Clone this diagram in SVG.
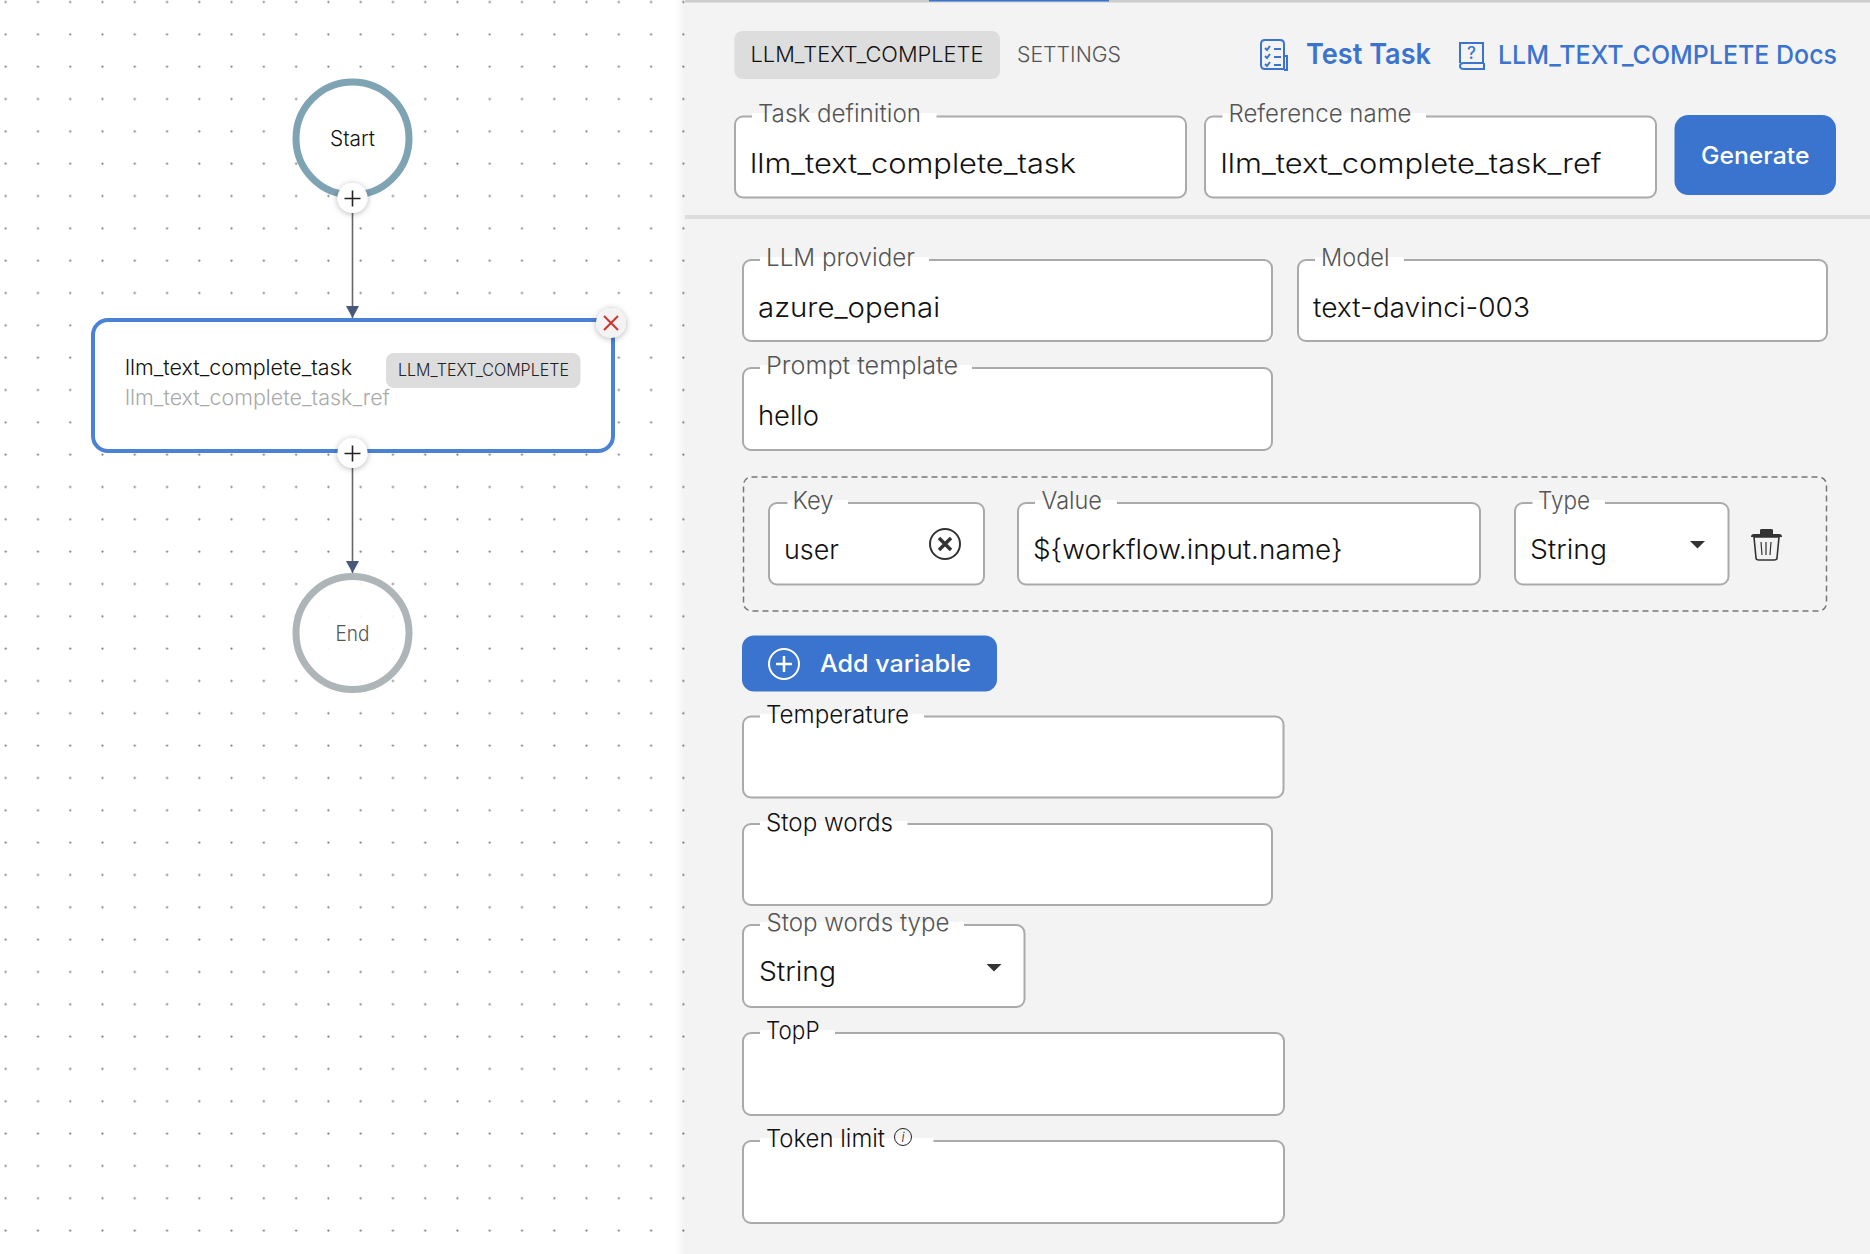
<svg xmlns="http://www.w3.org/2000/svg" width="1870" height="1254" viewBox="0 0 1870 1254">
<style>
text{font-family:Inter,"Liberation Sans",sans-serif;font-weight:300}
.f{fill:#fff;stroke:#aaa;stroke-width:2}
.n{fill:#fff}
.l{font-size:24px;fill:#555}
.k{font-size:24px;fill:#111}
.v{font-size:27.5px;fill:#111}
.b{font-size:26px;fill:#3a74cf;font-weight:500}
.w{font-size:24px;fill:#fff;font-weight:500}
.ic{fill:none;stroke:#3a74cf;stroke-width:2}
.pb{fill:#fff;filter:url(#sh)}
.pl{stroke:#222;stroke-width:1.6;fill:none}
.blue{fill:#3a74cf}
.d{fill:#333}
</style>
<defs>
<pattern id="dots" width="32.27" height="32.33" patternUnits="userSpaceOnUse" x="-10.4" y="-14.2">
<circle cx="16.1" cy="16.2" r="1.1" fill="#777"/>
</pattern>
<linearGradient id="edge" x1="0" x2="1" y1="0" y2="0"><stop offset="0" stop-color="#000" stop-opacity="0"/><stop offset="1" stop-color="#000" stop-opacity=".05"/></linearGradient>
<filter id="sh" x="-50%" y="-50%" width="200%" height="200%"><feDropShadow dx="0" dy="1" stdDeviation="3" flood-color="#000" flood-opacity=".3"/></filter>
<marker id="arr" markerUnits="userSpaceOnUse" markerWidth="13" markerHeight="13" refX="12" refY="6.5" orient="auto"><path d="M0 0L12 6.5L0 13Z" fill="#48587a"/></marker>
</defs>

<rect width="1870" height="1254" fill="#fff"/>
<rect width="685" height="1254" fill="url(#dots)"/>
<rect x="675" width="10" height="1254" fill="url(#edge)"/>

<g id="connectors" fill="none" stroke="#666" stroke-width="1.6">
<line x1="352.5" y1="213" x2="352.5" y2="318" marker-end="url(#arr)"/>
<line x1="352.5" y1="468" x2="352.5" y2="573" marker-end="url(#arr)"/>
</g>

<g id="node-start">
<circle cx="352.5" cy="138.5" r="56.5" fill="#fff" stroke="#7ea3b3" stroke-width="7"/>
<text x="352.5" y="146" text-anchor="middle" font-size="21" fill="#111" textLength="45" lengthAdjust="spacingAndGlyphs">Start</text>
<circle class="pb" cx="352.5" cy="198" r="15"/>
<path class="pl" d="M344.5 198.500h16M352.500 190.500v16"/>
</g>

<g id="node-task">
<rect x="93" y="320" width="520" height="131" rx="15" fill="#fff" stroke="#4a82d6" stroke-width="4"/>
<text x="125" y="375" font-size="21.500" fill="#111" textLength="227" lengthAdjust="spacingAndGlyphs">llm_text_complete_task</text>
<text x="125" y="404.500" font-size="21.500" fill="#aaa" textLength="265" lengthAdjust="spacingAndGlyphs">llm_text_complete_task_ref</text>
<rect x="386" y="353" width="194.500" height="35" rx="8" fill="#ddd"/>
<text x="398" y="376" font-size="17" fill="#222" textLength="171" lengthAdjust="spacingAndGlyphs">LLM_TEXT_COMPLETE</text>
<circle class="pb" cx="352.5" cy="453" r="15"/>
<path class="pl" d="M344.5 453.500h16M352.500 445.500v16"/>
<circle cx="611" cy="323" r="15" fill="#f3f3f3" filter="url(#sh)"/>
<path d="M604 316l14 14M618 316l-14 14" stroke="#d0342c" stroke-width="2" fill="none"/>
</g>

<g id="node-end">
<circle cx="352.5" cy="633" r="56.500" fill="#fff" fill-opacity=".9" stroke="#adb5b8" stroke-width="7"/>
<text x="352.5" y="640.500" text-anchor="middle" font-size="21" fill="#555" textLength="34" lengthAdjust="spacingAndGlyphs">End</text>
</g>

<g id="panel">
<rect x="685" width="1185" height="1254" fill="#f3f3f3"/>
<rect x="685" width="1185" height="2.500" fill="#ccc"/>
<rect x="929" width="180" height="1.500" fill="#3a74cf"/>
<rect x="685" y="215" width="1185" height="4" fill="#ddd"/>
</g>

<g id="tabs">
<rect x="734.500" y="31" width="265.500" height="48" rx="8" fill="#ddd"/>
<text x="750.500" y="62" font-size="21.500" fill="#111" textLength="233" lengthAdjust="spacingAndGlyphs">LLM_TEXT_COMPLETE</text>
<text x="1017" y="62" font-size="21.500" fill="#555" textLength="104" lengthAdjust="spacingAndGlyphs">SETTINGS</text>
</g>

<g id="test-task">
<path class="ic" d="M1265 40h15q4 0 4 4v25h-19q-4 0-4-4V44q0-4 4-4ZM1284 56h3v14h-3"/>
<path class="ic" d="M1265 48l2 2 3-4M1274 49h7M1265 56l2 2 3-4M1274 57h7M1265 64l2 2 3-4M1274 65h7" stroke-width="1.500"/>
<text x="1306" y="64" font-size="29" fill="#3a74cf" style="font-weight:600" textLength="125" lengthAdjust="spacingAndGlyphs">Test Task</text>
</g>
<g id="docs">
<path class="ic" d="M1460 63V43h23v20h-19q-4 0-4 3t4 3h20v-6"/>
<text x="1471.500" y="59" font-size="17" fill="#3a74cf" text-anchor="middle" style="font-weight:500">?</text>
<text x="1498" y="64" class="b" textLength="339" lengthAdjust="spacingAndGlyphs">LLM_TEXT_COMPLETE Docs</text>
</g>

<g id="field-task-definition">
<rect class="f" x="735" y="116.500" width="451" height="81" rx="8"/>
<rect class="n" x="752" y="113" width="184.500" height="5"/>
<text class="l" x="758" y="122" textLength="163" lengthAdjust="spacingAndGlyphs">Task definition</text>
<text class="v" x="750" y="173" textLength="326" lengthAdjust="spacingAndGlyphs">llm_text_complete_task</text>
</g>
<g id="field-reference-name">
<rect class="f" x="1205" y="116.500" width="451" height="81" rx="8"/>
<rect class="n" x="1222.500" y="113" width="203.500" height="5"/>
<text class="l" x="1228.500" y="122" textLength="183" lengthAdjust="spacingAndGlyphs">Reference name</text>
<text class="v" x="1220.500" y="173" textLength="381" lengthAdjust="spacingAndGlyphs">llm_text_complete_task_ref</text>
</g>
<g id="btn-generate">
<rect class="blue" x="1674.500" y="115" width="161.500" height="80" rx="14"/>
<text class="w" x="1701" y="164" textLength="108.500" lengthAdjust="spacingAndGlyphs">Generate</text>
</g>

<g id="field-llm-provider">
<rect class="f" x="743" y="260" width="529" height="81" rx="8"/>
<rect class="n" x="760" y="257" width="169" height="5"/>
<text class="l" x="766" y="266" textLength="149" lengthAdjust="spacingAndGlyphs">LLM provider</text>
<text class="v" x="758" y="317" textLength="182" lengthAdjust="spacingAndGlyphs">azure_openai</text>
</g>
<g id="field-model">
<rect class="f" x="1298" y="260" width="529" height="81" rx="8"/>
<rect class="n" x="1315" y="257" width="89" height="5"/>
<text class="l" x="1321" y="266" textLength="68.500" lengthAdjust="spacingAndGlyphs">Model</text>
<text class="v" x="1313" y="317" textLength="217" lengthAdjust="spacingAndGlyphs">text-davinci-003</text>
</g>
<g id="field-prompt-template">
<rect class="f" x="743" y="368" width="529" height="82" rx="8"/>
<rect class="n" x="760" y="365" width="212" height="5"/>
<text class="l" x="766" y="373.500" textLength="192" lengthAdjust="spacingAndGlyphs">Prompt template</text>
<text class="v" x="758" y="425" textLength="61" lengthAdjust="spacingAndGlyphs">hello</text>
</g>

<g id="variable-row">
<rect x="743.500" y="477" width="1083" height="134" rx="8" fill="none" stroke="#777" stroke-width="1.500" stroke-dasharray="6 4"/>
<rect class="f" x="769" y="503" width="215" height="81.500" rx="8"/>
<rect class="n" x="787.500" y="500" width="60.500" height="5"/>
<text class="l" x="792.500" y="508.500" textLength="41" lengthAdjust="spacingAndGlyphs">Key</text>
<text class="v" x="784" y="558.500" textLength="55" lengthAdjust="spacingAndGlyphs">user</text>
<circle cx="945" cy="544" r="15" fill="none" stroke="#333" stroke-width="2"/>
<path d="M939 538l12 12M951 538l-12 12" stroke="#333" stroke-width="3.500" fill="none"/>
<rect class="f" x="1018" y="503" width="462" height="81.500" rx="8"/>
<rect class="n" x="1035" y="500" width="82" height="5"/>
<text class="l" x="1041.500" y="508.500" textLength="60.500" lengthAdjust="spacingAndGlyphs">Value</text>
<text class="v" x="1033" y="558.500" textLength="309.500" lengthAdjust="spacingAndGlyphs">${workflow.input.name}</text>
<rect class="f" x="1515" y="503" width="213.500" height="81.500" rx="8"/>
<rect class="n" x="1532.500" y="500" width="72.500" height="5"/>
<text class="l" x="1538" y="508.500" textLength="52" lengthAdjust="spacingAndGlyphs">Type</text>
<text class="v" x="1530" y="558.500" textLength="77" lengthAdjust="spacingAndGlyphs">String</text>
<path class="d" d="M1690 541h15l-7.500 7.500Z"/>
<path d="M1754 537h25l-2 21q0 2-3 2h-15q-3 0-3-2Z" fill="none" stroke="#333" stroke-width="1.600"/>
<path d="M1751 537q0-3 3-3h6v-4q0-1 2-1h9q2 0 2 1v4h6q3 0 3 3Z" class="d"/>
<path d="M1761 542l1 13M1766 542v13M1771 542l-1 13" stroke="#333" stroke-width="1.200" fill="none"/>
</g>

<g id="btn-add-variable">
<rect class="blue" x="742" y="635.500" width="255" height="56" rx="12"/>
<circle cx="784" cy="664" r="15" fill="none" stroke="#fff" stroke-width="2"/>
<path d="M776 664h16M784 656v16" stroke="#fff" stroke-width="2.500" fill="none"/>
<text class="w" x="820" y="672" textLength="151" lengthAdjust="spacingAndGlyphs">Add variable</text>
</g>

<g id="field-temperature">
<rect class="f" x="743" y="716.500" width="540.500" height="81" rx="8"/>
<rect class="n" x="760" y="714" width="164" height="5"/>
<text class="k" x="766" y="722.500" textLength="143" lengthAdjust="spacingAndGlyphs">Temperature</text>
</g>
<g id="field-stop-words">
<rect class="f" x="743" y="824" width="529" height="81" rx="8"/>
<rect class="n" x="760" y="821" width="147.500" height="5"/>
<text class="k" x="766" y="830.500" textLength="127" lengthAdjust="spacingAndGlyphs">Stop words</text>
</g>
<g id="field-stop-words-type">
<rect class="f" x="743" y="925" width="281.500" height="82" rx="8"/>
<rect class="n" x="760" y="922" width="204" height="5"/>
<text class="l" x="766.500" y="930.500" textLength="183" lengthAdjust="spacingAndGlyphs">Stop words type</text>
<text class="v" x="759" y="980.500" textLength="77" lengthAdjust="spacingAndGlyphs">String</text>
<path class="d" d="M986.500 964h15l-7.500 7.500Z"/>
</g>
<g id="field-topp">
<rect class="f" x="743" y="1033" width="541" height="82" rx="8"/>
<rect class="n" x="760" y="1030" width="75" height="5"/>
<text class="k" x="766" y="1039" textLength="53.500" lengthAdjust="spacingAndGlyphs">TopP</text>
</g>
<g id="field-token-limit">
<rect class="f" x="743" y="1141" width="541" height="82" rx="8"/>
<rect class="n" x="760" y="1138" width="173.500" height="5"/>
<text class="k" x="766" y="1147" textLength="119" lengthAdjust="spacingAndGlyphs">Token limit</text>
<circle cx="903" cy="1137" r="8.500" fill="none" stroke="#222" stroke-width="1"/>
<text x="903" y="1142" font-size="13" fill="#222" text-anchor="middle" font-family="Liberation Serif" font-style="italic">i</text>
</g>
</svg>
